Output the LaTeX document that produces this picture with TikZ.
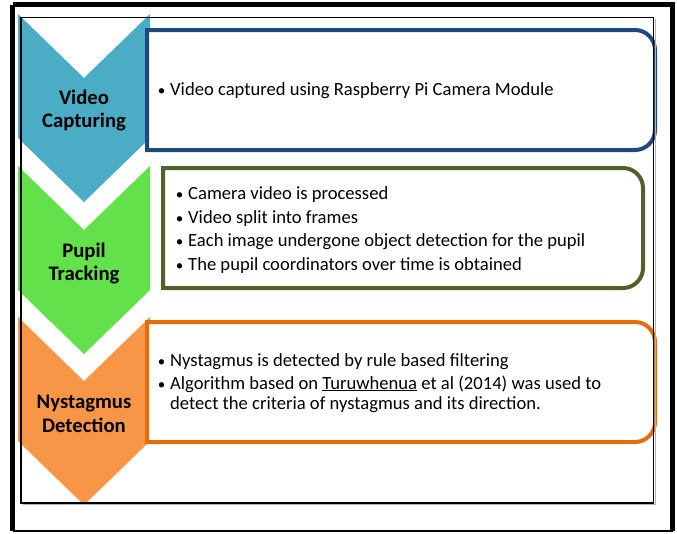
\documentclass[tikz,border=0pt]{standalone}
\usepackage{fontspec}
\setmainfont{Carlito}
\definecolor{chevblue}{RGB}{75,172,198}
\definecolor{chevgreen}{RGB}{98,225,74}
\definecolor{chevorange}{RGB}{247,150,70}
\definecolor{boxblue}{RGB}{31,73,125}
\definecolor{boxgreen}{RGB}{79,98,40}
\definecolor{boxorange}{RGB}{228,108,10}
\begin{document}
\begin{tikzpicture}[x=1pt,y=1pt,
  lab/.style={font=\fontsize{20.7}{24}\selectfont\bfseries, anchor=base, inner sep=0pt},
  txt/.style={font=\fontsize{18.6}{22}\selectfont, anchor=base west, inner sep=0pt},
  bul/.style={font=\fontsize{15}{18}\selectfont, anchor=base, inner sep=0pt},
  boxline/.style={line width=4pt, fill=white},
]
\useasboundingbox (0,0) rectangle (677,-533);
% chevrons
\fill[chevblue] (18,-14) -- (84,-78) -- (150,-14) -- (150,-138) -- (84,-202) -- (18,-138) -- cycle;
\fill[chevgreen] (18,-166) -- (84,-230) -- (150,-166) -- (150,-290) -- (84,-354) -- (18,-290) -- cycle;
\fill[chevorange] (18,-317) -- (84,-381) -- (150,-317) -- (150,-441) -- (84,-505) -- (18,-441) -- cycle;
% boxes
\draw[boxline, draw=boxblue] (147,-30) -- (635,-30) arc[start angle=90,end angle=0,radius=20pt] -- (655,-130) arc[start angle=0,end angle=-90,radius=20pt] -- (147,-150) -- cycle;
\draw[boxline, draw=boxgreen] (163,-168) -- (623,-168) arc[start angle=90,end angle=0,radius=20pt] -- (643,-268) arc[start angle=0,end angle=-90,radius=20pt] -- (163,-288) -- cycle;
\draw[boxline, draw=boxorange] (147,-322) -- (635,-322) arc[start angle=90,end angle=0,radius=20pt] -- (655,-422) arc[start angle=0,end angle=-90,radius=20pt] -- (147,-442) -- cycle;
% chevron labels
\node[lab] (l1a) at (84,-104) {Video};
\node[lab] (l1b) at (84,-127) {Capturing};
\node[lab] (l2a) at (84,-257) {Pupil};
\node[lab] (l2b) at (84,-280) {Tracking};
\node[lab] (l3a) at (84,-408) {Nystagmus};
\node[lab] (l3b) at (84,-432) {Detection};
% blue box text
\node[bul] (b1) at (161.5,-95) {•};
\node[txt] (t1) at (170,-95) {Video captured using Raspberry Pi Camera Module};
% green box text
\node[bul] (b2) at (179.5,-199) {•};
\node[txt] (t2) at (188,-199) {Camera video is processed};
\node[bul] (b3) at (179.5,-223) {•};
\node[txt] (t3) at (188,-223) {Video split into frames};
\node[bul] (b4) at (179.5,-246) {•};
\node[txt] (t4) at (188,-246) {Each image undergone object detection for the pupil};
\node[bul] (b5) at (179.5,-270) {•};
\node[txt] (t5) at (188,-270) {The pupil coordinators over time is obtained};
% orange box text
\node[bul] (b6) at (161.5,-366) {•};
\node[txt] (t6) at (170,-366) {Nystagmus is detected by rule based filtering};
\node[bul] (b7) at (161.5,-389) {•};
\node[txt] (t7) at (170,-389) {Algorithm based on \underline{Turuwhenua} et al (2014) was used to};
\node[txt] (t8) at (170,-409) {detect the criteria of nystagmus and its direction.};
% frames
\draw[gray!60, line width=1pt] (22.5,-504.5) -- (655,-504.5) -- (655,-19);
\draw[line width=1.3pt] (21,-17.5) rectangle (653.5,-503);
\draw[line width=4.5pt] (12.5,-4.5) -- (672.5,-4.5) -- (672.5,-531);
\draw[line width=4.5pt] (12.5,-4.5) -- (12.5,-531);
\draw[line width=2.5pt] (12.5,-531) -- (672.5,-531);
\end{tikzpicture}
\end{document}
